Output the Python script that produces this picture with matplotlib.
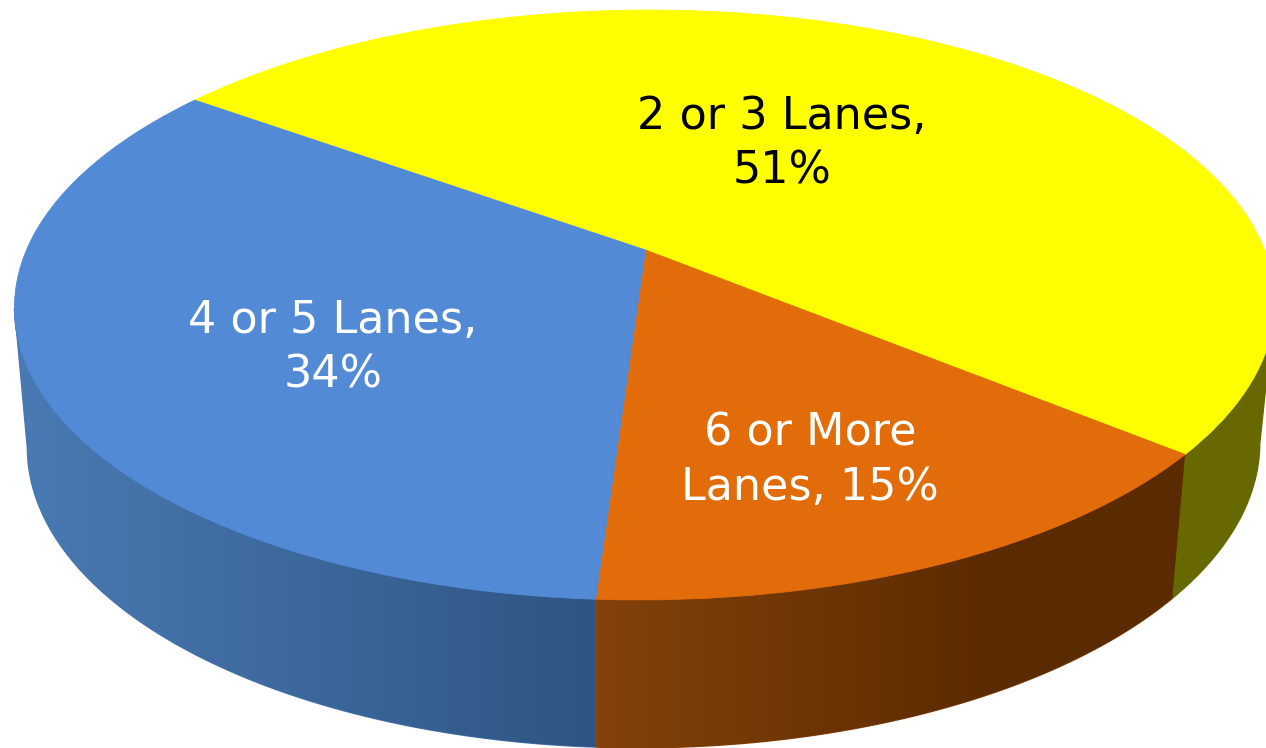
import numpy as np
import matplotlib
matplotlib.use("Agg")
import matplotlib.pyplot as plt
from matplotlib.colors import LinearSegmentedColormap
from matplotlib.patches import Polygon
from matplotlib.path import Path
from matplotlib.transforms import Transform

categories = ["2 or 3 Lanes", "6 or More Lanes", "4 or 5 Lanes"]
values = [51, 15, 34]
labels = ["2 or 3 Lanes,\n51%", "6 or More\nLanes, 15%", "4 or 5 Lanes,\n34%"]
top_colors = ["#FFFF00", "#E26B0A", "#528AD6"]
wall_left = ["#686800", "#84420A", "#4A7AB4"]
wall_right = ["#686800", "#5A2A00", "#2E5582"]
wall_span = [(1170, 1266), (598, 1000), (20, 598)]
label_xy = [(782, 144), (810, 460), (333, 348)]
label_colors = ["black", "white", "white"]
START_ANGLE = 144.3


class Perspective(Transform):
    """Unit pie disc seen in perspective, as image pixels; level 1 is the base."""
    input_dims = output_dims = 2

    def __init__(self, level=0.0):
        super().__init__()
        self.level = level

    def transform_non_affine(self, xy):
        xy = np.asarray(xy, float)
        x, y = xy[:, 0], xy[:, 1]
        w = 1 + 0.1864 * y
        px = 645.5 + (619 * x + 5 * y) / w
        py = (250 - 238.1 * y) / w
        if self.level:
            px = 600 + (px - 600) * (1 - 0.022 * self.level)
            py = py + self.level * (0.027 * py + 131.7)
        return np.column_stack([px, py])

    def transform_path_non_affine(self, path):
        return Path(self.transform_non_affine(path.vertices), path.codes)


fig = plt.figure(figsize=(12.66, 7.48), dpi=100, facecolor="white")
ax = fig.add_axes([0, 0, 1, 1])
wedges, _ = ax.pie(values, colors=top_colors, startangle=START_ANGLE,
                   counterclock=False)
ax.set_aspect("auto")
ax.axis("off")

top = Perspective(0.0)
base = Perspective(1.0)


def unit(deg):
    r = np.radians(deg)
    return np.column_stack([np.cos(r), np.sin(r)])


# the front of the drum runs between the left-most and right-most rim points
circle = np.linspace(0, 360, 1441)
rim_x = top.transform(unit(circle))[:, 0]
front_from, front_to = circle[np.argmin(rim_x)], circle[np.argmax(rim_x)]

columns = np.arange(1266)
for w, color, cl, cr, span in zip(wedges, top_colors, wall_left, wall_right, wall_span):
    w.set_transform(top + ax.transData)
    w.set_zorder(3)
    w.set_edgecolor(color)
    w.set_linewidth(0.6)
    th = np.linspace(w.theta1, w.theta2, 600)
    th = th[(th % 360 >= front_from) & (th % 360 <= front_to)]
    arc = unit(th)
    outline = np.vstack([top.transform(arc), base.transform(arc)[::-1]])
    clip = Polygon(outline, closed=True, transform=ax.transData,
                   fc=cl, ec=cl, lw=1, zorder=1)
    ax.add_patch(clip)
    cmap = LinearSegmentedColormap.from_list("wall", [cl, cr])
    shade = np.clip((columns - span[0]) / (span[1] - span[0]), 0, 1)[None, :]
    im = ax.imshow(shade, cmap=cmap, vmin=0, vmax=1, aspect="auto",
                   extent=(0, 1266, 748, 0), zorder=2, interpolation="nearest")
    im.set_clip_path(clip)
ax.set_xlim(0, 1266)
ax.set_ylim(748, 0)

for text, (x, y), c in zip(labels, label_xy, label_colors):
    ax.text(x, y, text, color=c, fontsize=32, ha="center", va="center",
            linespacing=1.34, family="DejaVu Sans", zorder=5)

fig.savefig("out.png", dpi=100, facecolor="white")
